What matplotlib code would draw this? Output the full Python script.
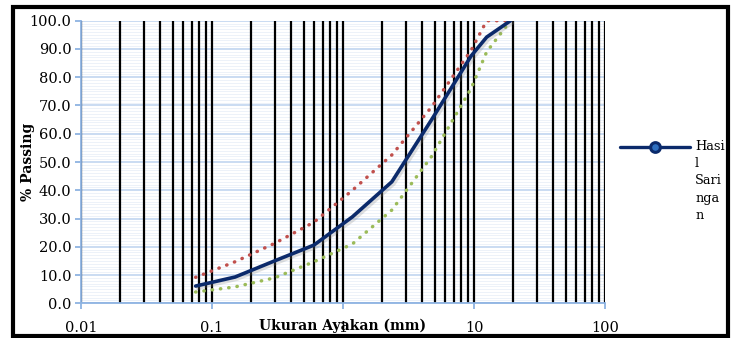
import numpy as np
from matplotlib import pyplot as plt
from matplotlib import ticker as mticker
from matplotlib import patches as mpatches
from matplotlib import lines as mlines
from matplotlib import patheffects as pe

# ukuran saringan (mm) dan persen lolos
saringan = [0.075, 0.15, 0.3, 0.6, 1.18, 2.36, 4.75, 9.5, 12.5, 19.0]
hasil = [6.1, 9.3, 15.0, 20.6, 30.6, 43.0, 65.0, 87.5, 94.2, 100.0]
batas_atas = [9.2, 14.7, 21.2, 28.7, 40.0, 52.5, 69.5, 89.5, 100.0, 100.0]
batas_bawah = [4.0, 5.8, 9.0, 14.7, 21.0, 33.0, 52.0, 76.0, 89.0, 100.0]

xticks = [0.01, 0.1, 1, 10, 100]
xticklabels = ['0.01', '0.1', '1', '10', '100']
yticks = np.arange(0, 101, 10)

W, H = 731, 338
plt.rcParams['font.family'] = ['DejaVu Serif']
fig = plt.figure(figsize=(W / 100, H / 100), dpi=100, facecolor='white')
ax = fig.add_axes([81 / W, 1 - 303.3 / H, (605 - 81) / W, (303.3 - 20.7) / H])

navy = '#0b2a6b'
axcol = '#8db3e2'

ax.plot(saringan, batas_atas, color='#c0504d', lw=2.5, ls=(0, (0.1, 2.3)),
        dash_capstyle='round', zorder=3)
ax.plot(saringan, batas_bawah, color='#9bbb59', lw=2.5, ls=(0, (0.1, 2.3)),
        dash_capstyle='round', zorder=3)
ax.plot(saringan, hasil, color=navy, lw=2.6, solid_capstyle='round', zorder=4,
        path_effects=[pe.SimpleLineShadow(offset=(1.5, -1.5), alpha=0.25, shadow_color='gray'),
                      pe.Normal()])

ax.set_xscale('log')
ax.set_xlim(0.01, 100)
ax.set_ylim(0, 100)

ax.set_xticks(xticks)
ax.set_xticklabels(xticklabels)
ax.xaxis.set_minor_locator(mticker.LogLocator(base=10, subs=np.arange(2, 10)))
ax.xaxis.set_minor_formatter(mticker.NullFormatter())
ax.set_yticks(yticks)
ax.yaxis.set_major_formatter(mticker.FormatStrFormatter('%.1f'))
ax.yaxis.set_minor_locator(mticker.MultipleLocator(1))

ax.set_axisbelow(True)
ax.yaxis.grid(True, which='major', color='#c6d9f1', lw=1.3)
ax.yaxis.grid(True, which='minor', color='#edf2f9', lw=0.7)
ax.xaxis.grid(True, which='both', color='black', lw=1.6)
ax.yaxis.set_zorder(0.4)
ax.xaxis.set_zorder(0.6)

for s in ['top', 'right']:
    ax.spines[s].set_visible(False)
for s in ['left', 'bottom']:
    ax.spines[s].set_color(axcol)
    ax.spines[s].set_linewidth(1.3)
ax.tick_params(which='major', direction='out', length=4, width=1.3, color=axcol,
               labelsize=10.5, labelcolor='black')
ax.tick_params(axis='x', which='major', pad=9)
ax.tick_params(axis='y', which='major', pad=3)
ax.tick_params(which='minor', length=0)

fig.text(343 / W, 1 - 326 / H, 'Ukuran Ayakan (mm)', ha='center', va='center',
         fontsize=10, fontweight='bold')
fig.text(28 / W, 1 - 162 / H, '% Passing', ha='center', va='center', rotation=90,
         fontsize=10, fontweight='bold')

# legenda
fig.add_artist(mlines.Line2D([620 / W, 690 / W], [1 - 146.7 / H] * 2, color=navy, lw=2.4,
                             solid_capstyle='round'))
fig.add_artist(mlines.Line2D([655 / W], [1 - 146.7 / H], marker='o', markersize=7,
                             markerfacecolor='#2e6fc0', markeredgecolor=navy,
                             markeredgewidth=2.2))
fig.text(695 / W, 1 - 140 / H, 'Hasi\nl\nSari\nnga\nn', ha='left', va='top',
         fontsize=9.3, linespacing=1.42)

# bingkai
fig.add_artist(mpatches.Rectangle((12.5 / W, 1 - 335.5 / H), (728 - 12.5) / W, (335.5 - 6.5) / H,
                                  transform=fig.transFigure, fill=False, lw=3,
                                  edgecolor='black', clip_on=False))

plt.savefig('out.png', dpi=100, facecolor='white')
